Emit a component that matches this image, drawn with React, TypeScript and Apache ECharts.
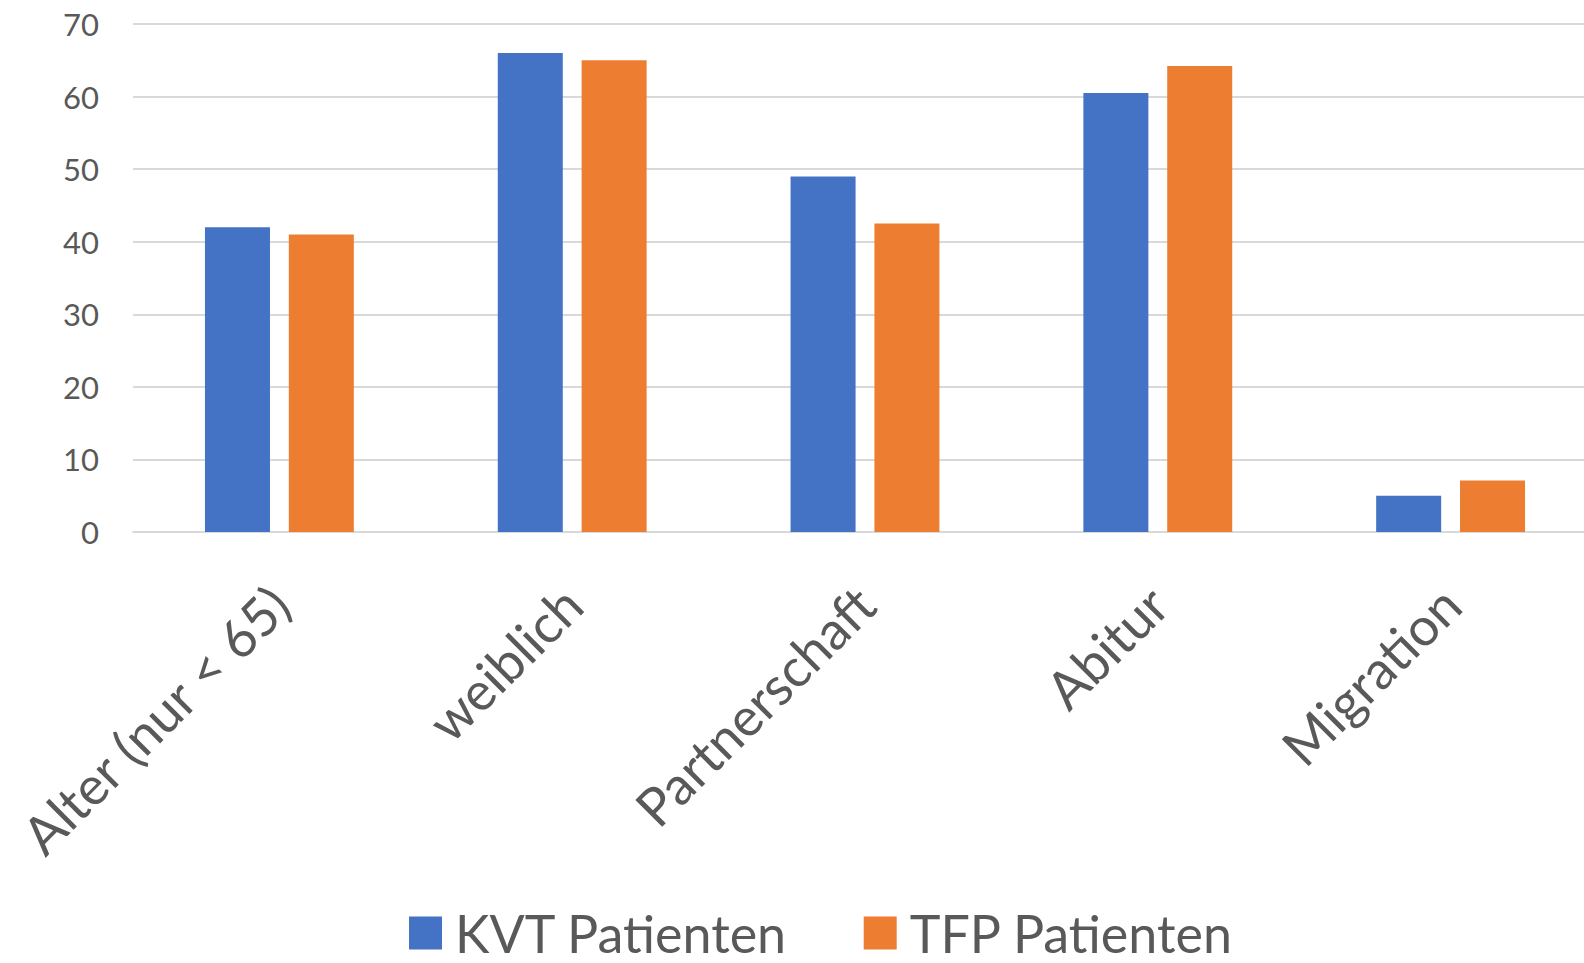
import React, { useEffect, useRef } from "react";
import * as echarts from "echarts";

const categories = ["Alter (nur < 65)", "weiblich", "Partnerschaft", "Abitur", "Migration"];
const kvtValues = [42, 66, 49, 60.5, 5];
const tfpValues = [41, 65, 42.5, 64.2, 7.1];
const seriesNames = ["KVT Patienten", "TFP Patienten"];
const colors = ["#4472C4", "#ED7D31"];

const FONT = "Lato";

export default function App() {
  const ref = useRef<HTMLDivElement>(null);
  useEffect(() => {
    if (!ref.current) return;
    const chart = echarts.init(ref.current, null, { renderer: "svg" });
    chart.setOption({
      animation: false,
      grid: { left: 133, top: 24, width: 1464, height: 508, containLabel: false },
      legend: {
        left: 409,
        bottom: 4,
        padding: 0,
        itemWidth: 33,
        itemHeight: 33,
        itemGap: 76,
        icon: "rect",
        textStyle: {
          fontFamily: FONT,
          fontSize: 52,
          lineHeight: 40,
          color: "#595959",
          padding: [0, 0, 0, 8],
        },
        data: seriesNames,
      },
      xAxis: {
        type: "category",
        data: categories,
        axisLine: { show: true, lineStyle: { color: "#d9d9d9", width: 2 } },
        axisTick: { show: false },
        axisLabel: {
          rotate: 45,
          interval: 0,
          margin: 63,
          fontFamily: FONT,
          fontSize: 53,
          color: "#595959",
        },
      },
      yAxis: {
        type: "value",
        min: 0,
        max: 70,
        interval: 10,
        axisLine: { show: false },
        axisTick: { show: false },
        splitLine: { lineStyle: { color: "#d9d9d9", width: 2 } },
        axisLabel: { fontFamily: FONT, fontSize: 31, color: "#595959", margin: 34 },
      },
      series: [
        {
          name: seriesNames[0],
          type: "bar",
          data: kvtValues,
          barWidth: 65,
          barGap: "29%",
          itemStyle: { color: colors[0] },
        },
        {
          name: seriesNames[1],
          type: "bar",
          data: tfpValues,
          barWidth: 65,
          barGap: "29%",
          itemStyle: { color: colors[1] },
        },
      ],
    });
    return () => chart.dispose();
  }, []);
  return (
    <div
      style={{
        position: "fixed",
        left: 0,
        top: 0,
        width: 1584,
        height: 963,
        overflow: "hidden",
        background: "#fff",
      }}
    >
      <div ref={ref} style={{ width: 1600, height: 963 }} />
    </div>
  );
}
